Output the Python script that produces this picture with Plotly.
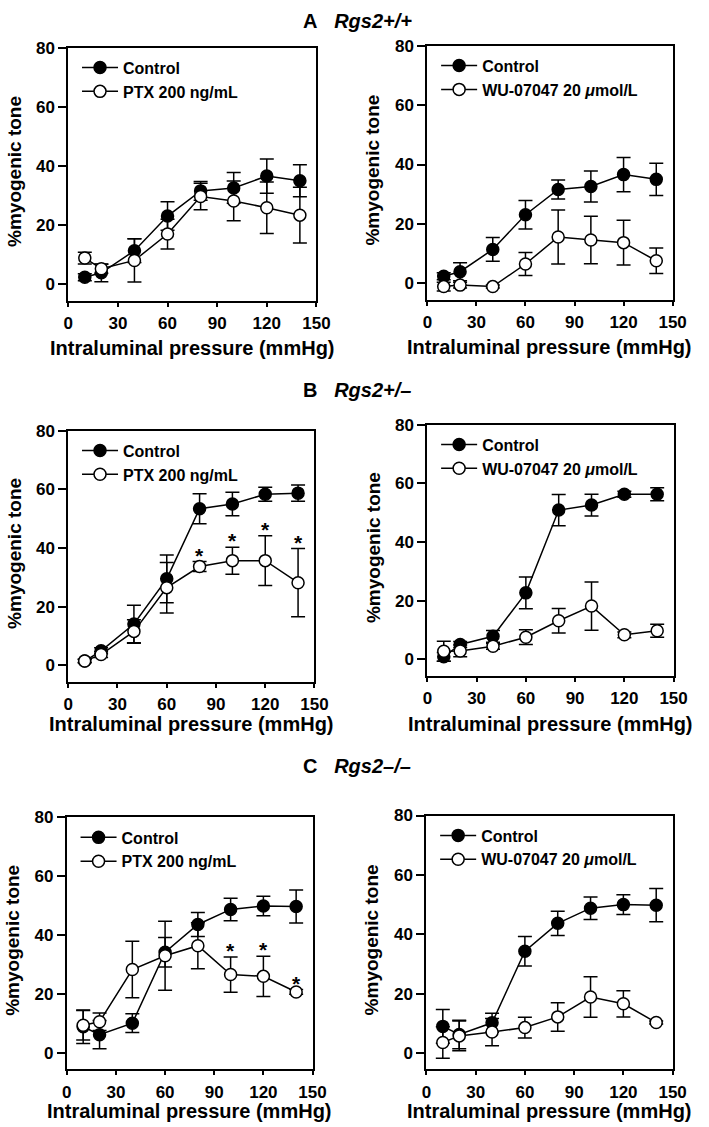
import plotly.graph_objects as go

W, H = 709, 1127
FONT = 'Liberation Sans, Arial, sans-serif'

pressure = [10, 20, 40, 60, 80, 100, 120, 140]

# A  Rgs2+/+  (same control curve in both panels)
a_ctrl = [2.4, 3.9, 11.4, 23.1, 31.6, 32.6, 36.6, 35.0]
a_ctrl_se = [1.2, 3.0, 4.0, 4.8, 3.2, 5.2, 5.8, 5.4]
a_ptx = [8.9, 5.3, 8.1, 17.0, 29.7, 28.2, 25.9, 23.4]
a_ptx_se = [2.0, 1.5, 7.3, 5.0, 4.5, 6.7, 8.7, 9.4]
a_wu = [-1.1, -0.6, -1.1, 6.5, 15.6, 14.6, 13.7, 7.6]
a_wu_se = [1.5, 1.0, 0.5, 3.9, 9.1, 8.0, 7.5, 4.3]

# B  Rgs2+/-
b_ctrl_ptx = [1.5, 5.0, 14.1, 29.5, 53.4, 55.0, 58.3, 58.7]
b_ctrl_ptx_se = [0.6, 1.0, 6.4, 8.1, 5.1, 4.0, 2.4, 2.8]
b_ptx = [1.5, 3.7, 11.6, 26.5, 33.7, 35.7, 35.7, 28.2]
b_ptx_se = [0.5, 1.0, 4.0, 8.6, 1.7, 4.6, 8.5, 11.6]
b_ptx_sig = [0, 0, 0, 0, 1, 1, 1, 1]
b_ctrl_wu = [0.9, 5.1, 7.9, 22.7, 50.9, 52.6, 56.3, 56.3]
b_ctrl_wu_se = [1.5, 1.0, 2.0, 5.4, 5.3, 3.7, 1.0, 2.2]
b_wu = [2.8, 2.9, 4.5, 7.6, 13.2, 18.2, 8.4, 9.8]
b_wu_se = [3.4, 2.0, 1.0, 2.5, 4.2, 8.2, 1.0, 2.2]

# C  Rgs2-/-  (same control curve in both panels)
c_ctrl = [9.0, 6.3, 10.2, 34.3, 43.7, 48.8, 50.0, 49.8]
c_ctrl_se = [5.7, 4.8, 3.2, 5.0, 4.1, 3.8, 3.3, 5.6]
c_ptx = [9.5, 10.7, 28.4, 33.1, 36.5, 26.7, 26.1, 20.8]
c_ptx_se = [5.0, 3.0, 9.6, 11.7, 7.8, 6.0, 6.8, 0.8]
c_ptx_sig = [0, 0, 0, 0, 0, 1, 1, 1]
c_wu = [3.6, 5.8, 7.1, 8.6, 12.2, 18.9, 16.6, 10.3]
c_wu_se = [5.3, 5.0, 4.6, 3.5, 4.8, 6.8, 4.4, 0.5]

x_ticks = [0, 30, 60, 90, 120, 150]
y_ticks = [0, 20, 40, 60, 80]
ptx_label = 'PTX 200 ng/mL'
wu_label = 'WU-07047 20 <i>\u03bc</i>mol/L'
row_titles = ['<b>A</b>&nbsp;&nbsp; <b><i>Rgs2+/+</i></b>',
              '<b>B</b>&nbsp;&nbsp; <b><i>Rgs2+/\u2013</i></b>',
              '<b>C</b>&nbsp;&nbsp; <b><i>Rgs2\u2013/\u2013</i></b>']

panels = [
    dict(ctrl=a_ctrl, ctrl_se=a_ctrl_se, trt=a_ptx, trt_se=a_ptx_se, lab=ptx_label, sig=None,
         box=(65, 320, 39, 294)),
    dict(ctrl=a_ctrl, ctrl_se=a_ctrl_se, trt=a_wu, trt_se=a_wu_se, lab=wu_label, sig=None,
         box=(434, 686, 37, 293)),
    dict(ctrl=b_ctrl_ptx, ctrl_se=b_ctrl_ptx_se, trt=b_ptx, trt_se=b_ptx_se, lab=ptx_label, sig=b_ptx_sig,
         box=(65, 318, 425, 678)),
    dict(ctrl=b_ctrl_wu, ctrl_se=b_ctrl_wu_se, trt=b_wu, trt_se=b_wu_se, lab=wu_label, sig=None,
         box=(434, 687, 419, 672)),
    dict(ctrl=c_ctrl, ctrl_se=c_ctrl_se, trt=c_ptx, trt_se=c_ptx_se, lab=ptx_label, sig=c_ptx_sig,
         box=(63.5, 316, 815, 1069)),
    dict(ctrl=c_ctrl, ctrl_se=c_ctrl_se, trt=c_wu, trt_se=c_wu_se, lab=wu_label, sig=None,
         box=(433, 686, 813, 1069)),
]
xtitle_y = [342, 341, 721, 721, 1111, 1111]
title_y = [12, 384, 763]


def px(x):
    return x / W


def py(y):
    return 1 - y / H


fig = go.Figure()
annotations = []
layout = {}

for i, p in enumerate(panels):
    n = '' if i == 0 else str(i + 1)
    xa, ya = 'x' + n, 'y' + n
    lg = 'legend' if i == 0 else 'legend' + str(i + 1)
    x0, x1, top, bot = p['box']

    for y, se, lab, fill in [(p['ctrl'], p['ctrl_se'], 'Control', 'black'),
                             (p['trt'], p['trt_se'], p['lab'], 'white')]:
        fig.add_trace(go.Scatter(
            x=pressure, y=y, name=lab, mode='lines+markers', xaxis=xa, yaxis=ya, legend=lg,
            line=dict(color='black', width=1.5),
            marker=dict(symbol='circle', size=12, color=fill, line=dict(color='black', width=1.5)),
            error_y=dict(type='data', array=se, color='black', thickness=1.5, width=7),
            cliponaxis=False))

    if p['sig']:
        for xv, m, s, flag in zip(pressure, p['trt'], p['trt_se'], p['sig']):
            if flag:
                annotations.append(dict(x=xv, y=m + s, xref=xa, yref=ya, text='<b>*</b>',
                                        showarrow=False, yanchor='bottom', yshift=-7,
                                        font=dict(family=FONT, size=21, color='black')))

    axis_common = dict(showline=True, linecolor='black', linewidth=2, mirror=True,
                       showgrid=False, zeroline=False, ticks='outside', tickcolor='black',
                       tickwidth=2,
                       tickfont=dict(family=FONT, size=17, color='black', weight='bold'))
    layout['xaxis' + n] = dict(axis_common, domain=[px(x0), px(x1)], range=[0, 150],
                               tickvals=x_ticks, anchor=ya, ticklen=4, ticklabelstandoff=2)
    layout['yaxis' + n] = dict(axis_common, domain=[py(bot), py(top)], range=[-5.5, 80],
                               tickvals=y_ticks, anchor=xa, ticklen=8)
    layout[lg] = dict(x=px(x0 + 9), y=py(top + 3), xanchor='left', yanchor='top',
                      bgcolor='rgba(0,0,0,0)', itemwidth=36, tracegroupgap=0,
                      font=dict(family=FONT, size=16, color='black', weight='bold'))

    annotations.append(dict(x=px((x0 + x1) / 2), y=py(xtitle_y[i]), xref='paper', yref='paper',
                            text='<b>Intraluminal pressure (mmHg)</b>', showarrow=False,
                            xanchor='center', yanchor='middle',
                            font=dict(family=FONT, size=20, color='black')))
    annotations.append(dict(x=px(x0 - 56), y=py((top + bot) / 2 - 3), xref='paper', yref='paper',
                            text='<b>%myogenic tone</b>', showarrow=False, textangle=-90,
                            xanchor='center', yanchor='middle',
                            font=dict(family=FONT, size=19, color='black')))

for t, yy in zip(row_titles, title_y):
    annotations.append(dict(x=px(362), y=py(yy), xref='paper', yref='paper', text=t,
                            showarrow=False, xanchor='center', yanchor='middle',
                            font=dict(family=FONT, size=20, color='black')))

fig.update_layout(**layout)
fig.update_layout(width=W, height=H, margin=dict(l=0, r=0, t=0, b=0),
                  paper_bgcolor='white', plot_bgcolor='white',
                  font=dict(family=FONT, color='black'),
                  annotations=annotations)

# page body has a default 8px margin; drop it so the figure sits at the window origin
fig.write_html("out.html", config={'displayModeBar': False},
               post_script="document.body.style.margin='0';")
